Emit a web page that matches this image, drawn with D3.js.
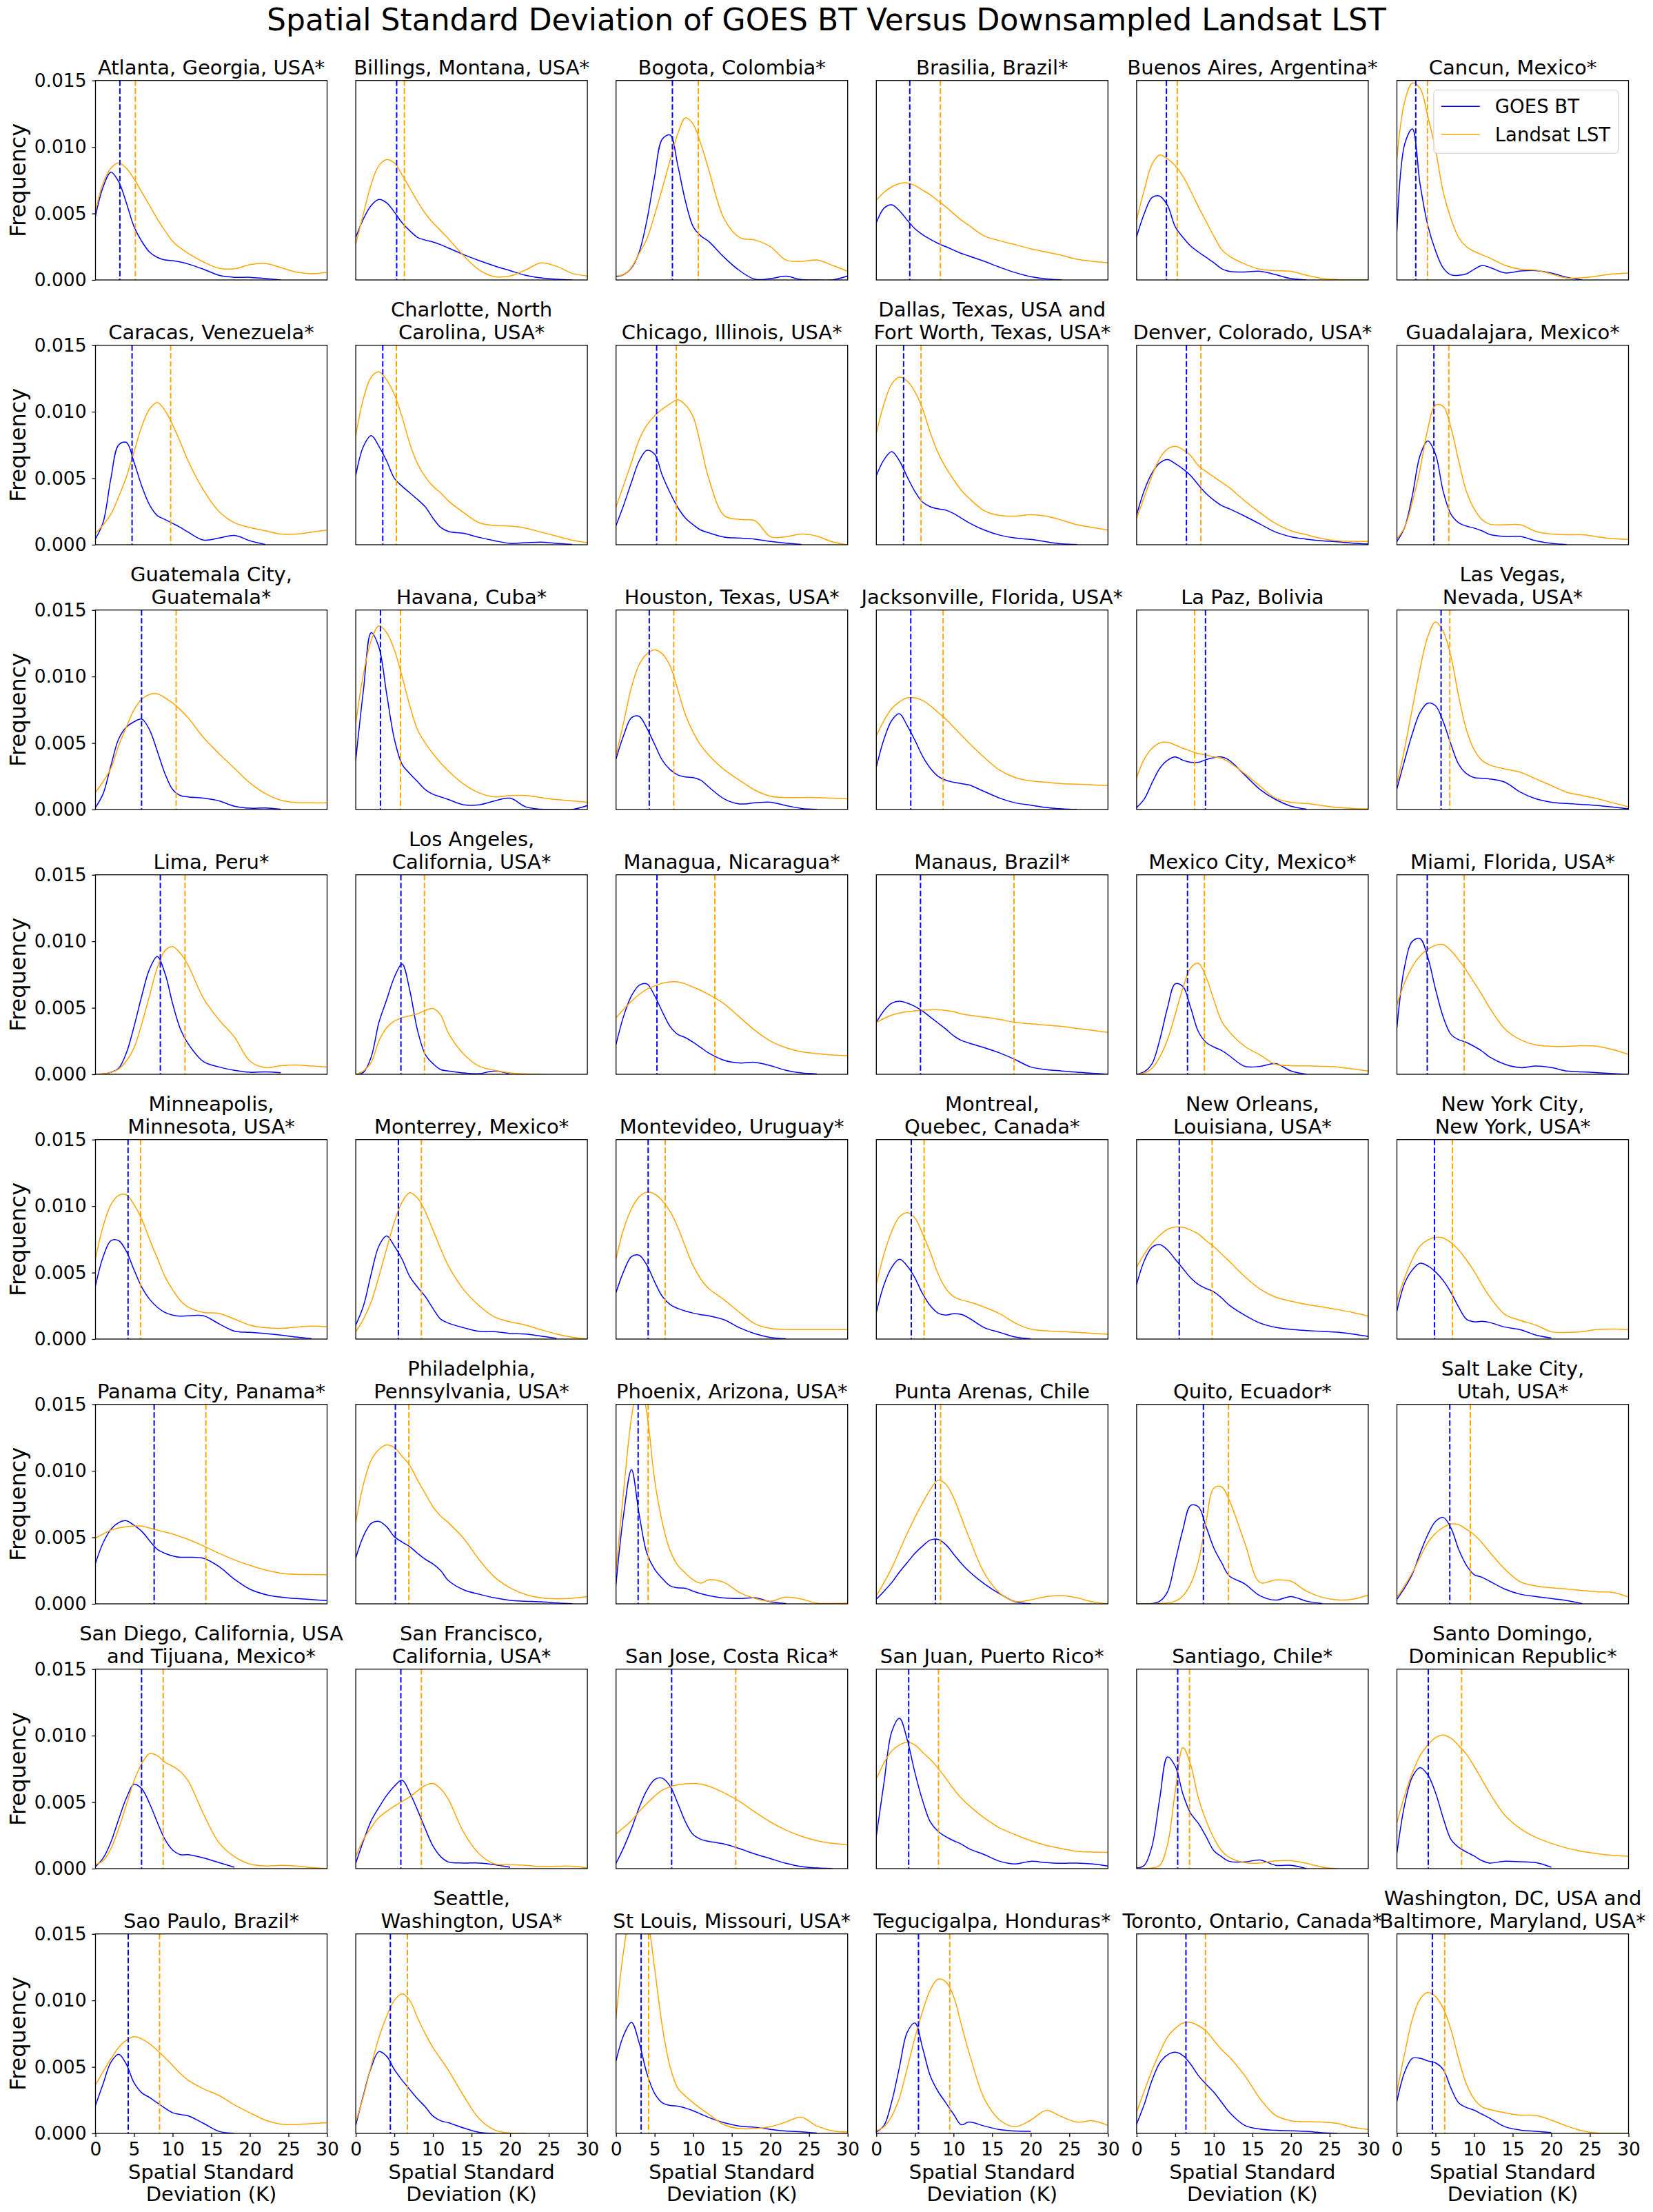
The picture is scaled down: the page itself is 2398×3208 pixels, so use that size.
<!DOCTYPE html>
<html>
<head>
<meta charset="utf-8">
<script src="https://cdn.jsdelivr.net/npm/d3@7"></script>
<style>body{margin:0;background:#fff}</style>
</head>
<body>
<svg id="chart"></svg>
<script>
const xGrid = [0,1,2,3,4,5,6,7,8,9,10,11,12,14,16,18,20,22,24,26,28,30];

const cities = [
  "Atlanta, Georgia, USA*","Billings, Montana, USA*","Bogota, Colombia*","Brasilia, Brazil*","Buenos Aires, Argentina*","Cancun, Mexico*",
  "Caracas, Venezuela*","Charlotte, North\nCarolina, USA*","Chicago, Illinois, USA*","Dallas, Texas, USA and\nFort Worth, Texas, USA*","Denver, Colorado, USA*","Guadalajara, Mexico*",
  "Guatemala City,\nGuatemala*","Havana, Cuba*","Houston, Texas, USA*","Jacksonville, Florida, USA*","La Paz, Bolivia","Las Vegas,\nNevada, USA*",
  "Lima, Peru*","Los Angeles,\nCalifornia, USA*","Managua, Nicaragua*","Manaus, Brazil*","Mexico City, Mexico*","Miami, Florida, USA*",
  "Minneapolis,\nMinnesota, USA*","Monterrey, Mexico*","Montevideo, Uruguay*","Montreal,\nQuebec, Canada*","New Orleans,\nLouisiana, USA*","New York City,\nNew York, USA*",
  "Panama City, Panama*","Philadelphia,\nPennsylvania, USA*","Phoenix, Arizona, USA*","Punta Arenas, Chile","Quito, Ecuador*","Salt Lake City,\nUtah, USA*",
  "San Diego, California, USA\nand Tijuana, Mexico*","San Francisco,\nCalifornia, USA*","San Jose, Costa Rica*","San Juan, Puerto Rico*","Santiago, Chile*","Santo Domingo,\nDominican Republic*",
  "Sao Paulo, Brazil*","Seattle,\nWashington, USA*","St Louis, Missouri, USA*","Tegucigalpa, Honduras*","Toronto, Ontario, Canada*","Washington, DC, USA and\nBaltimore, Maryland, USA*"
];

// density values in units of 0.001, one row per city, sampled at xGrid
const goesBT = [
  [4.8,7.0,8.1,7.4,5.8,4.0,2.9,2.1,1.7,1.5,1.45,1.35,1.2,0.8,0.35,0.2,0.2,0.1,0.0],
  [3.2,4.6,5.6,6.05,5.8,5.1,4.3,3.7,3.2,3.0,2.85,2.65,2.4,1.9,1.45,1.05,0.7,0.35,0.15,0.05,0],
  [0.25,0.4,0.9,2.1,4.5,7.8,10.6,10.9,8.6,5.9,4.0,3.3,2.9,1.7,0.7,0.05,0.1,0.28,0.02,0,0,0.3],
  [4.3,5.4,5.65,5.2,4.5,3.85,3.4,3.05,2.75,2.5,2.25,2.0,1.8,1.4,0.95,0.55,0.25,0.08,0.01],
  [3.25,5.0,6.2,6.3,5.6,4.0,3.2,2.55,2.1,1.7,1.3,0.85,0.65,0.6,0.65,0.4,0.1,0],
  [3.7,10.2,11.35,7.2,4.1,2.2,0.9,0.38,0.35,0.45,0.8,1.08,0.95,0.53,0.67,0.7,0.52,0.2,0],
  [0.45,1.7,5.0,7.5,7.7,6.2,4.4,3.0,2.2,1.9,1.6,1.3,0.95,0.35,0.5,0.7,0.3,0.02],
  [5.2,7.4,8.2,7.4,6.3,5.0,4.4,3.9,3.4,2.85,2.0,1.3,1.0,0.85,0.55,0.3,0.1,0.15,0.2,0.1,0.02],
  [1.45,3.0,4.7,6.3,7.1,6.8,5.2,3.9,2.8,2.0,1.5,1.1,0.9,0.57,0.5,0.42,0.25,0.12,0.03],
  [5.2,6.4,7.0,6.3,5.1,4.0,3.2,2.85,2.7,2.6,2.35,2.0,1.65,1.1,0.72,0.5,0.4,0.22,0.06,0.01],
  [2.25,4.1,5.4,6.15,6.4,6.1,5.7,5.2,4.5,3.85,3.35,2.95,2.7,2.15,1.55,0.95,0.6,0.42,0.3,0.22,0.12,0.05],
  [0.25,1.3,3.7,6.7,7.8,6.8,4.0,2.3,1.65,1.4,1.25,1.05,0.78,0.62,0.62,0.3,0.1,0.01],
  [0.15,1.2,3.3,5.3,6.2,6.6,6.8,6.0,4.4,2.7,1.5,1.05,0.95,0.85,0.65,0.25,0.1,0.12,0.02],
  [3.7,9.0,13.3,12.2,8.7,5.3,3.4,2.7,2.1,1.5,1.15,0.95,0.75,0.35,0.35,0.65,0.85,0.2,0.02,0,0,0.3],
  [3.8,5.6,6.9,7.0,6.1,4.9,3.7,3.0,2.6,2.45,2.4,2.2,1.7,0.8,0.42,0.5,0.55,0.3,0.08,0.01],
  [3.2,5.3,6.7,7.2,6.3,5.2,4.0,3.1,2.5,2.2,2.05,1.95,1.85,1.35,0.85,0.5,0.32,0.15,0.05,0],
  [0.15,0.8,2.0,3.1,3.7,3.95,3.7,3.55,3.55,3.75,3.9,3.95,3.7,2.6,1.5,0.75,0.25,0.03],
  [1.55,3.7,5.7,7.3,8.0,7.8,6.6,4.9,3.4,2.7,2.4,2.35,2.3,2.05,1.3,0.8,0.55,0.45,0.38,0.3,0.18,0.05],
  [0,0.02,0.15,0.45,1.6,3.6,5.9,7.9,8.85,7.6,5.3,3.4,2.3,0.95,0.55,0.3,0.15,0.18,0.12],
  [0,0.15,1.3,3.9,5.6,7.3,8.3,6.3,3.3,1.5,0.8,0.35,0.25,0.1,0.05,0.25,0.02],
  [2.25,4.4,5.9,6.7,6.8,5.9,4.7,3.6,3.0,2.75,2.4,2.0,1.6,1.05,0.85,0.9,0.65,0.3,0.1,0.03],
  [3.9,4.8,5.35,5.5,5.35,5.1,4.75,4.3,3.85,3.4,2.9,2.55,2.35,2.0,1.6,1.1,0.55,0.35,0.25,0.15,0.08,0],
  [0,0.2,0.8,2.6,5.0,6.8,6.6,5.0,3.2,2.4,2.05,1.8,1.4,0.6,0.6,0.8,0.25,0],
  [3.5,8.1,10.0,10.2,8.8,6.4,4.3,3.0,2.6,2.4,2.1,1.75,1.3,0.75,0.5,0.62,0.5,0.25,0.18,0.12,0.05,0],
  [4.0,6.2,7.4,7.4,6.6,5.2,3.9,3.0,2.4,2.0,1.8,1.73,1.75,1.75,1.15,0.6,0.5,0.42,0.3,0.15,0.03],
  [1.05,2.5,4.9,7.0,7.75,7.0,6.0,4.7,3.9,3.2,2.3,1.5,1.2,0.85,0.58,0.56,0.42,0.38,0.22,0.05],
  [3.5,5.1,6.2,6.3,5.55,4.3,3.2,2.6,2.3,2.1,1.95,1.83,1.75,1.45,0.85,0.4,0.12,0.02],
  [2.0,4.1,5.4,6.0,5.5,4.6,3.4,2.5,1.95,1.8,1.9,1.85,1.58,0.85,0.5,0.15,0.01],
  [4.1,5.9,6.9,7.1,6.7,6.0,5.3,4.6,4.1,3.8,3.55,3.1,2.55,1.8,1.2,0.88,0.72,0.64,0.58,0.52,0.38,0.2],
  [2.1,4.2,5.2,5.7,5.5,5.05,4.4,3.5,2.4,1.5,1.3,1.33,1.25,0.9,0.7,0.3,0.08],
  [3.05,4.6,5.6,6.1,6.25,5.9,5.45,4.75,4.1,3.8,3.6,3.5,3.5,3.42,2.8,1.85,1.1,0.7,0.5,0.4,0.32,0.25],
  [3.45,5.1,6.05,6.2,5.8,5.05,4.65,4.3,3.8,3.35,3.0,2.5,1.75,1.05,0.72,0.45,0.26,0.2,0.15,0.07,0.01],
  [1.5,6.8,10.1,6.7,3.8,2.6,1.9,1.35,1.2,1.17,0.95,0.76,0.62,0.44,0.4,0.45,0.16,0.03],
  [0.35,0.95,1.6,2.4,3.1,3.8,4.35,4.8,4.85,4.45,3.75,3.05,2.45,1.5,0.75,0.15,0.01],
  [0,0,0.02,0.2,0.9,3.2,5.6,7.4,7.3,5.8,4.2,3.1,2.1,1.5,0.6,0.28,0.55,0.2,0.02],
  [0.35,1.2,2.25,3.8,5.2,6.2,6.5,5.7,4.1,2.9,2.2,2.0,1.7,1.1,0.72,0.55,0.4,0.25,0.02],
  [0.15,0.8,2.0,3.7,5.3,6.35,6.0,4.9,3.5,2.2,1.4,1.05,1.05,0.8,0.45,0.1],
  [0.4,2.1,3.6,4.6,5.5,6.2,6.65,5.7,4.4,3.0,1.7,0.9,0.5,0.42,0.42,0.3,0.1],
  [0.4,1.6,3.0,4.6,5.9,6.7,6.8,6.2,4.9,3.5,2.55,2.2,2.05,1.85,1.5,1.1,0.75,0.4,0.15,0.05,0.01],
  [2.45,6.5,10.3,11.3,9.7,7.2,5.1,3.5,2.8,2.4,2.1,1.85,1.5,1.05,0.55,0.35,0.55,0.45,0.4,0.42,0.35,0.2],
  [0.05,0.25,1.7,5.3,8.4,7.7,5.6,4.15,3.4,2.4,1.35,0.9,0.55,0.5,0.65,0.25,0.25,0],
  [1.15,4.8,6.9,7.6,7.05,5.7,3.8,2.2,1.6,1.25,0.95,0.6,0.42,0.56,0.52,0.45,0.1],
  [2.1,3.75,5.35,5.95,5.2,3.8,3.05,2.7,2.3,1.9,1.55,1.42,1.32,0.75,0.15,0.01],
  [0.6,2.9,4.95,6.15,5.8,4.8,4.0,3.3,2.6,2.0,1.3,0.95,0.8,0.4,0.08,0],
  [5.45,7.4,8.35,6.8,4.5,3.0,2.3,2.1,2.05,1.9,1.7,1.45,1.2,0.8,0.55,0.46,0.3,0.18,0.12,0.03],
  [0.1,0.6,2.4,5.0,7.6,8.3,6.4,4.3,3.15,2.3,1.45,0.65,0.85,0.55,0.28,0.18,0.15],
  [0.7,2.2,4.0,5.3,5.9,6.1,5.85,5.2,4.35,3.7,3.1,2.35,1.6,0.6,0.32,0.23,0.2,0.15,0.05,0.01],
  [2.4,4.6,5.65,5.65,5.45,5.3,4.8,3.4,2.3,1.95,1.75,1.45,1.15,0.5,0.25,0.15,0.06]
];

const landsatLST = [
  [5.15,7.3,8.4,8.8,8.4,7.6,6.6,5.6,4.6,3.7,2.9,2.4,2.0,1.35,0.88,0.84,1.15,1.25,0.93,0.6,0.47,0.57],
  [2.7,5.0,7.2,8.6,9.05,8.8,7.9,6.9,5.9,5.0,4.3,3.7,3.1,1.8,0.75,0.25,0.3,0.75,1.28,1.03,0.5,0.3],
  [0.3,0.4,0.95,2.0,3.1,4.9,6.9,9.0,11.0,12.2,11.7,10.2,8.3,4.6,3.2,3.0,2.5,1.5,1.4,1.5,1.1,0.65],
  [6.0,6.6,7.0,7.25,7.3,7.1,6.75,6.4,5.95,5.5,5.0,4.5,4.1,3.3,2.95,2.65,2.35,2.1,1.85,1.55,1.4,1.3],
  [4.5,6.8,8.7,9.4,9.1,8.6,7.8,6.7,5.5,4.4,3.3,2.3,1.8,1.2,0.8,0.7,0.65,0.35,0.12,0.03,0,0],
  [9.1,13.4,14.8,14.4,12.3,9.8,6.6,4.6,3.2,2.5,2.15,1.9,1.65,1.1,0.8,0.74,0.45,0.14,0.17,0.3,0.45,0.52],
  [0.85,1.5,2.3,3.6,5.1,7.0,8.9,10.2,10.7,10.1,9.0,7.7,6.3,4.1,2.5,1.65,1.3,1.05,0.8,0.8,0.95,1.1],
  [8.2,11.0,12.6,13.0,12.4,11.3,9.6,7.6,6.1,5.1,4.4,3.9,3.3,2.4,1.65,1.45,1.4,1.25,0.95,0.65,0.35,0.15],
  [2.85,4.5,6.2,7.9,9.0,9.7,10.2,10.6,10.9,10.5,9.6,7.4,5.0,2.2,1.9,1.8,0.6,0.6,0.8,0.65,0.22,0],
  [8.4,10.6,12.1,12.6,12.3,11.5,10.2,8.4,6.9,5.8,4.9,4.1,3.5,2.55,2.2,2.15,2.25,2.15,1.85,1.5,1.3,1.1],
  [2.0,3.6,5.2,6.5,7.2,7.4,7.15,6.7,5.95,5.5,5.1,4.7,4.3,3.3,2.4,1.6,1.05,0.75,0.45,0.3,0.26,0.25],
  [0.45,1.3,3.2,5.7,8.7,10.5,10.4,8.8,6.3,4.0,2.7,1.9,1.55,1.5,1.5,1.0,0.8,0.75,0.75,0.6,0.45,0.4],
  [1.3,2.1,3.1,4.8,6.2,7.5,8.3,8.65,8.7,8.4,8.0,7.5,6.9,5.4,4.2,3.1,2.0,1.2,0.7,0.52,0.5,0.5],
  [6.5,10.2,12.7,13.8,13.3,12.0,10.0,7.8,6.0,5.0,4.2,3.5,2.9,1.9,1.25,0.95,1.05,1.05,0.9,0.75,0.65,0.55],
  [4.05,6.6,9.2,10.9,11.7,12.0,11.7,10.8,9.0,7.1,5.8,4.8,4.1,3.0,2.2,1.45,1.0,0.9,0.9,0.9,0.85,0.8],
  [5.55,6.7,7.6,8.1,8.4,8.4,8.2,7.8,7.3,6.8,6.2,5.6,5.0,3.9,2.95,2.4,2.15,2.05,1.95,1.9,1.85,1.8],
  [2.4,3.8,4.6,5.0,5.05,4.85,4.6,4.4,4.2,4.1,3.95,3.85,3.55,2.7,1.75,0.85,0.55,0.45,0.3,0.15,0.08,0.05],
  [1.9,4.6,7.6,10.6,13.0,14.1,13.4,11.5,8.5,6.0,4.5,3.7,3.35,3.05,2.8,2.3,1.8,1.3,1.05,0.8,0.5,0.2],
  [0,0.05,0.15,0.4,1.0,2.0,3.8,5.9,8.0,9.3,9.6,9.1,8.2,5.7,4.1,2.8,1.0,0.5,0.65,0.7,0.62,0.55],
  [0,0.25,0.9,2.5,3.5,4.0,4.25,4.4,4.55,4.8,4.95,4.45,3.1,1.5,0.6,0.3,0.1,0.02,0],
  [4.25,4.9,5.5,6.0,6.4,6.65,6.85,6.95,6.95,6.8,6.55,6.3,6.0,5.3,4.3,3.3,2.5,2.0,1.7,1.55,1.45,1.4],
  [3.9,4.2,4.45,4.6,4.7,4.77,4.82,4.85,4.85,4.8,4.7,4.55,4.45,4.3,4.12,3.9,3.8,3.7,3.6,3.45,3.3,3.15],
  [0,0.1,0.45,1.3,2.6,4.5,6.5,8.0,8.35,7.3,5.6,4.0,3.2,2.1,1.45,0.75,0.65,0.63,0.6,0.55,0.4,0.25],
  [5.25,6.9,8.1,8.9,9.4,9.7,9.75,9.3,8.6,7.8,6.9,6.0,5.0,3.4,2.6,2.2,2.1,2.1,2.15,2.1,1.85,1.5],
  [6.05,8.5,10.1,10.8,10.85,10.1,9.0,7.5,6.1,4.7,3.7,2.9,2.4,2.0,1.93,1.5,1.05,0.85,0.8,0.9,0.97,0.92],
  [0.55,1.5,2.8,4.7,6.8,8.8,10.3,11.0,10.6,9.6,8.2,6.8,5.5,3.7,2.5,1.65,1.3,1.05,0.7,0.38,0.14,0],
  [6.05,8.3,9.8,10.7,11.05,10.9,10.4,9.6,8.4,6.9,5.5,4.5,3.8,2.95,2.0,1.15,0.8,0.72,0.71,0.71,0.71,0.71],
  [4.1,6.4,8.1,9.2,9.5,9.1,7.9,6.5,4.9,3.8,3.2,2.95,2.8,2.4,1.9,1.2,0.75,0.62,0.57,0.5,0.43,0.36],
  [5.4,6.4,7.2,7.8,8.25,8.43,8.4,8.2,7.9,7.4,6.95,6.4,5.85,4.7,3.75,3.15,2.85,2.6,2.42,2.22,2.0,1.73],
  [2.85,4.6,6.0,7.0,7.45,7.65,7.6,7.25,6.7,5.95,5.1,4.1,3.2,1.85,1.4,1.05,0.55,0.5,0.56,0.72,0.75,0.71],
  [4.95,5.25,5.55,5.7,5.8,5.85,5.85,5.7,5.55,5.4,5.25,5.05,4.85,4.35,3.8,3.3,2.9,2.55,2.3,2.22,2.2,2.19],
  [6.1,9.0,10.8,11.6,11.95,11.75,11.1,10.4,9.3,8.3,7.3,6.6,6.1,4.9,3.3,2.0,1.2,0.7,0.45,0.38,0.42,0.56],
  [2.5,8.6,14.0,17.0,14.3,9.3,6.1,4.0,2.9,2.3,1.8,1.55,1.8,1.6,0.85,0.4,0.2,0.5,0.36,0.05,0.03,0.05],
  [0.6,1.6,2.7,4.0,5.3,6.5,7.6,8.6,9.3,9.0,8.0,6.5,5.0,2.3,0.8,0.18,0.3,0.55,0.62,0.45,0.15,0],
  [0,0,0,0.02,0.08,0.2,0.6,1.5,3.2,6.2,8.7,8.8,7.8,4.6,1.6,1.8,1.7,0.95,0.5,0.3,0.35,0.66],
  [0.5,1.35,2.35,3.5,4.6,5.3,5.75,6.0,5.95,5.6,5.2,4.6,3.9,2.6,1.65,1.35,1.2,1.12,1.0,0.9,0.86,0.51],
  [0.3,0.6,1.5,3.0,4.8,6.6,7.9,8.65,8.5,8.0,7.7,7.3,6.6,4.1,1.95,0.9,0.35,0.2,0.25,0.2,0.08,0],
  [0.9,2.2,3.1,3.85,4.3,4.7,5.05,5.4,5.85,6.25,6.4,6.0,5.2,2.7,1.1,0.35,0.3,0.25,0.15,0.18,0.18,0.05],
  [2.6,3.1,3.6,4.3,4.9,5.45,5.9,6.15,6.3,6.38,6.4,6.35,6.2,5.7,5.05,4.25,3.5,2.9,2.44,2.1,1.9,1.78],
  [6.75,7.95,8.85,9.3,9.5,9.3,8.75,8.2,7.55,6.8,6.0,5.3,4.75,3.8,3.05,2.55,2.1,1.75,1.5,1.3,1.25,1.22],
  [0,0,0.05,0.25,1.8,5.8,9.1,7.8,5.3,3.6,2.3,1.35,0.85,0.45,0.42,0.58,0.6,0.4,0.12,0],
  [3.45,5.5,7.2,8.5,9.3,9.85,10.05,9.8,9.25,8.6,7.7,6.7,5.7,4.0,3.0,2.35,1.9,1.55,1.3,1.12,1.0,0.92],
  [3.65,4.65,5.6,6.45,7.0,7.27,7.1,6.75,6.25,5.7,5.1,4.5,4.0,3.35,2.85,2.15,1.55,1.0,0.7,0.67,0.74,0.81],
  [0.85,2.8,5.1,7.2,8.8,10.0,10.5,10.0,8.7,7.5,6.45,5.6,4.75,2.8,1.1,0.25,0.02,0],
  [8.7,13.8,16.8,17.5,16.2,12.4,8.0,5.0,3.4,2.8,2.3,1.85,1.45,0.65,0.36,0.36,0.5,0.86,1.22,0.55,0.2,0.1],
  [0.2,0.5,1.3,2.7,4.9,7.2,9.2,10.8,11.6,11.4,10.3,8.2,6.1,2.6,1.0,0.5,1.0,1.73,1.25,0.85,0.95,0.61],
  [1.6,3.2,4.75,6.1,7.25,7.9,8.3,8.35,8.1,7.7,7.0,6.3,5.75,4.35,2.6,1.35,0.95,0.88,0.86,0.75,0.45,0.3],
  [3.15,6.0,8.6,10.1,10.6,10.3,9.4,7.8,5.6,3.7,2.6,2.0,1.8,1.55,1.37,1.35,1.0,0.55,0.2,0.03,0,0]
];

// dashed reference lines (K)
const goesMedian = [3.16,5.3,7.3,4.33,3.86,2.44, 4.74,3.5,5.26,3.53,6.45,4.79, 5.97,3.2,4.3,4.46,8.92,5.72,
  8.4,5.85,5.3,5.72,6.59,3.93, 4.22,5.52,4.16,4.53,5.52,4.86, 7.6,5.13,2.86,7.65,8.65,6.85,
  5.97,5.84,7.2,4.19,5.32,4.06, 4.24,4.48,3.25,5.46,6.39,4.59];
const landsatMedian = [5.17,6.3,10.65,8.3,5.26,3.96, 9.74,5.26,7.8,5.79,8.32,6.72, 10.45,5.8,7.47,8.65,7.52,6.85,
  11.6,8.9,12.8,17.83,8.78,8.72, 5.84,8.5,6.36,6.19,9.78,7.19, 14.3,6.88,4.16,8.32,11.9,9.51,
  8.77,8.5,15.5,8.05,6.85,8.38, 8.3,6.69,4.22,9.51,8.92,6.19];

const xTicks = [0,5,10,15,20,25,30];
const yTicks = [0,0.005,0.010,0.015];
const seriesNames = ["GOES BT","Landsat LST"];
const seriesColors = ["blue","orange"];

const W = 2398, H = 3208;
const nCols = 6, nRows = 8;
const left0 = 138.5, top0 = 116.7, panelW = 336, panelH = 289.3;
const colStep = 377.6, rowStep = 384;

const svg = d3.select("#chart")
  .attr("width", W)
  .attr("height", H)
  .style("font-family", "'DejaVu Sans', sans-serif");

svg.append("rect").attr("width", W).attr("height", H).attr("fill", "#fff");

svg.append("defs").append("clipPath").attr("id", "clip")
  .append("rect").attr("width", panelW).attr("height", panelH);

const x = d3.scaleLinear().domain([0, 30]).range([0, panelW]);
const y = d3.scaleLinear().domain([0, 0.015]).range([panelH, 0]);

const line = d3.line()
  .x((d, i) => x(xGrid[i]))
  .y(d => y(d * 1e-3))
  .curve(d3.curveCatmullRom.alpha(0.5));

svg.append("text")
  .attr("x", W / 2).attr("y", 44)
  .attr("text-anchor", "middle")
  .attr("font-size", "44px")
  .text("Spatial Standard Deviation of GOES BT Versus Downsampled Landsat LST");

cities.forEach(function(name, i) {
  const r = Math.floor(i / nCols), c = i % nCols;
  const g = svg.append("g")
    .attr("transform", "translate(" + (left0 + c * colStep) + "," + (top0 + r * rowStep) + ")");

  const plot = g.append("g").attr("clip-path", "url(#clip)");
  [goesBT[i], landsatLST[i]].forEach(function(vals, k) {
    plot.append("path")
      .attr("d", line(vals))
      .attr("fill", "none")
      .attr("stroke", seriesColors[k])
      .attr("stroke-width", 1.5);
  });
  [goesMedian[i], landsatMedian[i]].forEach(function(m, k) {
    plot.append("line")
      .attr("x1", x(m)).attr("x2", x(m))
      .attr("y1", 0).attr("y2", panelH)
      .attr("stroke", seriesColors[k])
      .attr("stroke-width", 2)
      .attr("stroke-dasharray", "8,3.5");
  });

  g.append("rect")
    .attr("width", panelW).attr("height", panelH)
    .attr("fill", "none").attr("stroke", "#000").attr("stroke-width", 1.3);

  // title, possibly two lines
  const lines = name.split("\n");
  lines.forEach(function(t, k) {
    g.append("text")
      .attr("x", panelW / 2)
      .attr("y", -9 - (lines.length - 1 - k) * 32.5)
      .attr("text-anchor", "middle")
      .attr("font-size", "29px")
      .text(t);
  });

  if (c === 0) {
    const ay = g.append("g")
      .call(d3.axisLeft(y).tickValues(yTicks).tickFormat(d3.format(".3f")).tickSize(5).tickPadding(8));
    ay.select(".domain").remove();
    ay.selectAll("text").attr("font-size", "26.5px").attr("font-family", "'DejaVu Sans', sans-serif").attr("fill", "#000");
    ay.selectAll("line").attr("stroke", "#000").attr("stroke-width", 1.3);
    g.append("text")
      .attr("transform", "translate(" + (37 - left0) + "," + (panelH / 2) + ") rotate(-90)")
      .attr("text-anchor", "middle")
      .attr("font-size", "32px")
      .text("Frequency");
  }

  if (r === nRows - 1) {
    const ax = g.append("g")
      .attr("transform", "translate(0," + panelH + ")")
      .call(d3.axisBottom(x).tickValues(xTicks).tickSize(5).tickPadding(8));
    ax.select(".domain").remove();
    ax.selectAll("text").attr("font-size", "26.5px").attr("font-family", "'DejaVu Sans', sans-serif").attr("fill", "#000");
    ax.selectAll("line").attr("stroke", "#000").attr("stroke-width", 1.3);
    g.append("text")
      .attr("x", panelW / 2).attr("y", panelH + 66)
      .attr("text-anchor", "middle").attr("font-size", "29px")
      .text("Spatial Standard");
    g.append("text")
      .attr("x", panelW / 2).attr("y", panelH + 98)
      .attr("text-anchor", "middle").attr("font-size", "29px")
      .text("Deviation (K)");
  }

  // legend lives in the Cancun panel (top right)
  if (i === nCols - 1) {
    const lg = g.append("g");
    lg.append("rect")
      .attr("x", 53.3).attr("y", 14).attr("width", 268).attr("height", 91.6)
      .attr("rx", 5)
      .attr("fill", "#fff").attr("fill-opacity", 0.8)
      .attr("stroke", "#d6d6d6").attr("stroke-width", 1.3);
    seriesNames.forEach(function(s, k) {
      const ly = 37.6 + k * 41;
      lg.append("line")
        .attr("x1", 64.3).attr("x2", 120.3)
        .attr("y1", ly).attr("y2", ly)
        .attr("stroke", seriesColors[k]).attr("stroke-width", 1.5);
      lg.append("text")
        .attr("x", 142.3).attr("y", ly + 9.8)
        .attr("font-size", "27.5px")
        .text(s);
    });
  }
});
</script>
</body>
</html>
